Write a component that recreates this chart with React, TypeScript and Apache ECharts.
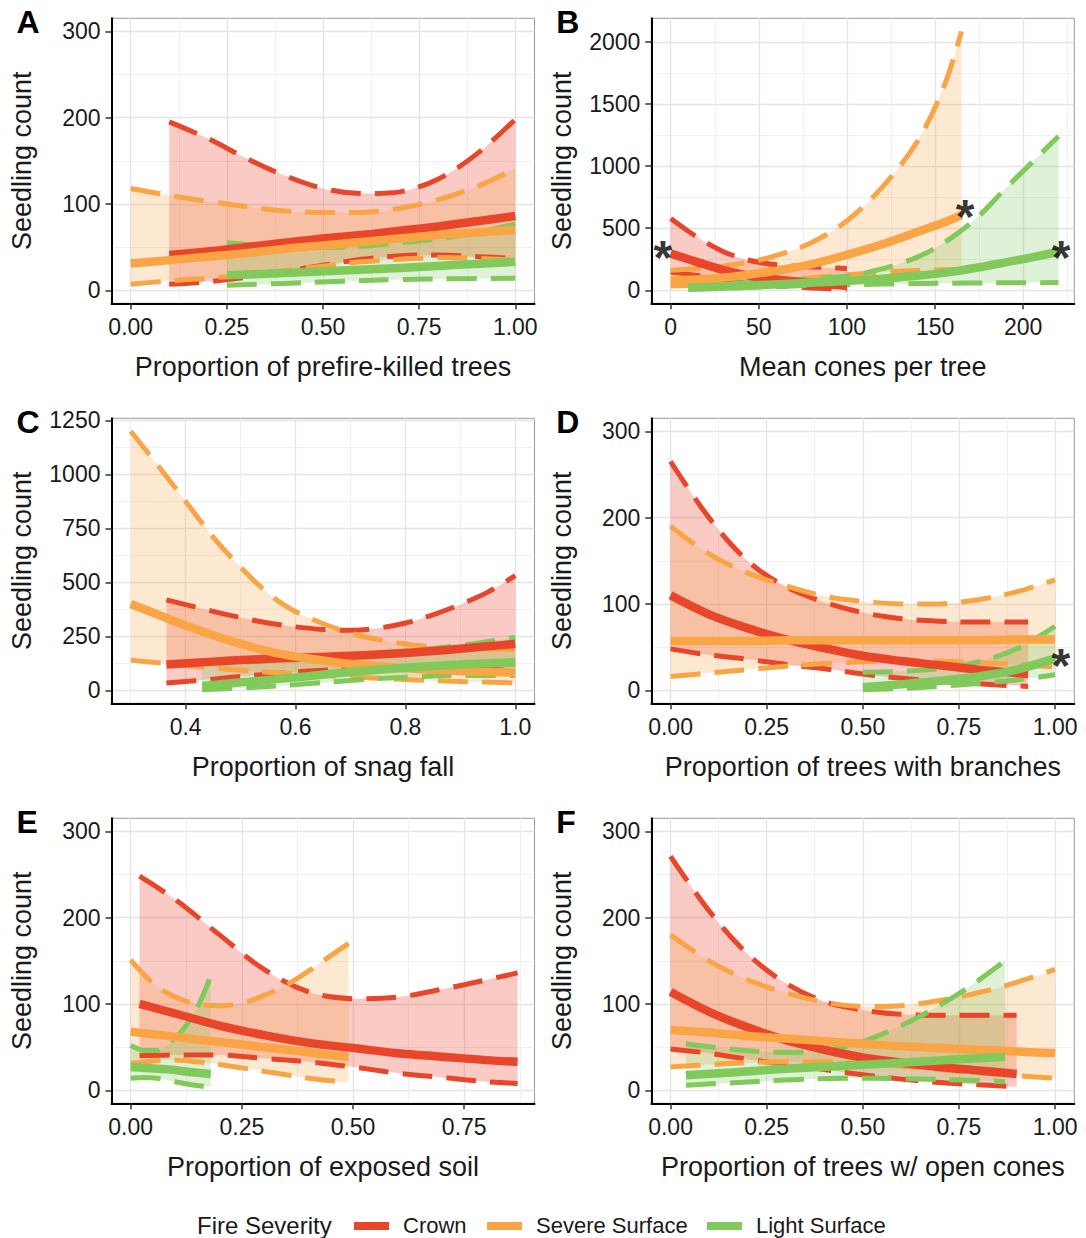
import React, { useEffect, useRef } from 'react';
import * as echarts from 'echarts';

const FONT = '"Liberation Sans", Arial, Helvetica, sans-serif';

// ---------- Panel A: Proportion of prefire-killed trees ----------
const A_crown_x = [0.1, 0.2, 0.3, 0.4, 0.5, 0.6, 0.7, 0.8, 0.9, 1.0];
const A_crown_fit = [41, 45, 50, 55, 60, 64, 69, 74, 80, 86];
const A_crown_lo = [7, 10, 15, 22, 29, 36, 40, 41, 39, 37];
const A_crown_hi = [195, 176, 153, 133, 118, 112, 114, 129, 158, 198];
const A_severe_x = [0, 0.1, 0.2, 0.3, 0.4, 0.5, 0.6, 0.7, 0.8, 0.9, 1.0];
const A_severe_fit = [31, 35, 39, 43, 48, 52, 56, 60, 64, 67, 70];
const A_severe_lo = [7, 11, 14, 18, 23, 28, 33, 36, 38, 37, 35];
const A_severe_hi = [118, 110, 103, 97, 92, 90, 90, 95, 105, 120, 141];
const A_light_x = [0.25, 0.4, 0.55, 0.7, 0.85, 1.0];
const A_light_fit = [17.5, 20, 23, 26, 29.5, 33];
const A_light_lo = [6, 8, 10.5, 12.5, 13.5, 14];
const A_light_hi = [55, 50, 50, 55, 63, 77];

// ---------- Panel B: Mean cones per tree ----------
const B_crown_x = [0, 10, 20, 30, 40, 50, 60, 70, 80, 90, 100];
const B_crown_fit = [295, 250, 205, 163, 130, 105, 87, 72, 58, 46, 35];
const B_crown_lo = [145, 130, 108, 87, 65, 49, 37, 27, 18, 12, 8];
const B_crown_hi = [577, 475, 385, 310, 258, 225, 205, 195, 188, 182, 175];
const B_severe_x = [0, 20, 40, 60, 80, 100, 120, 140, 155, 165];
const B_severe_fit = [80, 90, 118, 158, 210, 285, 370, 470, 545, 605];
const B_severe_lo = [35, 42, 55, 75, 100, 125, 145, 160, 165, 168];
const B_severe_hi = [161, 180, 215, 280, 385, 560, 830, 1200, 1640, 2085];
const B_light_x = [10, 40, 70, 100, 115, 130, 145, 160, 175, 190, 205, 220];
const B_light_fit = [20, 35, 55, 75, 88, 105, 125, 150, 185, 225, 265, 310];
const B_light_lo = [10, 22, 35, 44, 48, 52, 55, 57, 59, 60, 61, 62];
const B_light_hi = [40, 60, 85, 112, 155, 215, 300, 430, 600, 820, 1030, 1240];
const B_stars = [[-4.5, 330], [167, 660], [221.5, 330]];

// ---------- Panel C: Proportion of snag fall ----------
const C_crown_x = [0.365, 0.45, 0.5, 0.55, 0.6, 0.65, 0.7, 0.75, 0.8, 0.85, 0.9, 0.95, 1.0];
const C_crown_fit = [120, 133, 140, 146, 151, 155, 160, 166, 173, 182, 193, 204, 215];
const C_crown_lo = [34, 52, 64, 75, 85, 93, 100, 104, 106, 106, 103, 98, 92];
const C_crown_hi = [419, 366, 337, 312, 294, 282, 278, 288, 312, 350, 398, 455, 531];
const C_severe_x = [0.3, 0.35, 0.4, 0.45, 0.5, 0.55, 0.6, 0.7, 0.8, 0.9, 1.0];
const C_severe_fit = [400, 350, 300, 255, 215, 182, 157, 122, 102, 90, 82];
const C_severe_lo = [140, 128, 115, 103, 93, 84, 76, 62, 50, 41, 34];
const C_severe_hi = [1200, 1040, 875, 710, 570, 450, 365, 265, 215, 195, 190];
const C_light_x = [0.43, 0.5, 0.6, 0.7, 0.8, 0.9, 1.0];
const C_light_fit = [20, 37, 60, 85, 105, 120, 130];
const C_light_lo = [3, 11, 26, 46, 61, 69, 69];
const C_light_hi = [123, 130, 143, 163, 182, 208, 246];

// ---------- Panel D: Proportion of trees with branches ----------
const D_crown_x = [0, 0.1, 0.2, 0.3, 0.4, 0.5, 0.6, 0.7, 0.8, 0.93];
const D_crown_fit = [110, 88, 72, 59, 49, 40, 34, 29, 24, 19];
const D_crown_lo = [48, 41, 36, 30, 25, 19, 14, 10.5, 7.5, 4.5];
const D_crown_hi = [265, 200, 150, 120, 102, 90, 83, 80, 79, 79];
const D_severe_x = [0, 0.1, 0.2, 0.3, 0.4, 0.5, 0.6, 0.7, 0.8, 0.9, 1.0];
const D_severe_fit = [57, 57, 57, 58, 58, 58, 58, 58, 58, 59, 59];
const D_severe_lo = [16, 20, 24, 28, 31, 33, 34, 34, 32, 30, 27];
const D_severe_hi = [190, 158, 136, 121, 109, 103, 100, 100, 105, 114, 128];
const D_light_x = [0.5, 0.6, 0.7, 0.8, 0.9, 1.0];
const D_light_fit = [3.5, 7, 11, 16, 24, 37];
const D_light_lo = [0.6, 2.2, 4.8, 8, 12, 18];
const D_light_hi = [21, 22, 25, 33, 48, 74];
const D_stars = [[1.015, 38]];

// ---------- Panel E: Proportion of exposed soil ----------
const E_crown_x = [0.02, 0.1, 0.2, 0.3, 0.4, 0.5, 0.6, 0.7, 0.8, 0.87];
const E_crown_fit = [100, 89, 75, 64, 55, 49, 43, 39, 35, 33];
const E_crown_lo = [40, 41, 41, 37, 33, 27, 20, 15, 10, 8];
const E_crown_hi = [248, 221, 180, 140, 114, 106, 108, 117, 128, 136];
const E_severe_x = [0, 0.05, 0.1, 0.15, 0.2, 0.25, 0.3, 0.35, 0.4, 0.45, 0.49];
const E_severe_fit = [68, 65, 62, 59, 56, 53, 50, 47, 44, 41, 39];
const E_severe_lo = [31, 34, 35, 33, 30, 26, 22, 18, 14, 11, 9];
const E_severe_hi = [151, 124, 108, 100, 98, 101, 110, 122, 138, 156, 170];
const E_light_x = [0, 0.03, 0.06, 0.09, 0.12, 0.15, 0.18];
const E_light_fit = [27, 26, 25, 24, 22, 20.5, 19];
const E_light_lo = [14, 15, 14, 11, 8, 5.5, 3.5];
const E_light_hi = [52, 46, 46, 56, 72, 96, 132];

// ---------- Panel F: Proportion of trees w/ open cones ----------
const F_crown_x = [0, 0.1, 0.2, 0.3, 0.4, 0.5, 0.6, 0.7, 0.8, 0.9];
const F_crown_fit = [114, 91, 73, 58, 47, 38, 32, 27, 23, 19];
const F_crown_lo = [48, 43, 36, 30, 24, 18, 13, 9, 6.5, 4];
const F_crown_hi = [271, 208, 158, 124, 103, 93, 88, 87, 87, 87];
const F_severe_x = [0, 0.1, 0.2, 0.3, 0.4, 0.5, 0.6, 0.7, 0.8, 0.9, 1.0];
const F_severe_fit = [70, 67, 63, 60, 57, 54, 51, 49, 47, 45, 43];
const F_severe_lo = [27, 30, 32, 33, 33, 31, 28, 24, 20, 17, 14];
const F_severe_hi = [180, 150, 128, 113, 102, 97, 98, 104, 113, 125, 140];
const F_light_x = [0.04, 0.15, 0.3, 0.45, 0.6, 0.75, 0.87];
const F_light_fit = [17.5, 20.5, 25, 28.5, 32, 36, 39];
const F_light_lo = [6, 8.5, 12, 14, 13.5, 12, 10];
const F_light_hi = [54, 48, 44, 50, 75, 112, 150];

// ---------- Axis ticks ----------
const PROP_TICKS = [0, 0.25, 0.5, 0.75, 1];
const PROP_MINOR = [0.125, 0.375, 0.625, 0.875];
const COUNT300_TICKS = [0, 100, 200, 300];
const COUNT300_MINOR = [50, 150, 250];
const CONE_TICKS = [0, 50, 100, 150, 200];
const CONE_MINOR = [25, 75, 125, 175, 225];
const B_Y_TICKS = [0, 500, 1000, 1500, 2000];
const B_Y_MINOR = [250, 750, 1250, 1750];
const SNAG_TICKS = [0.4, 0.6, 0.8, 1.0];
const SNAG_MINOR = [0.3, 0.5, 0.7, 0.9];
const C_Y_TICKS = [0, 250, 500, 750, 1000, 1250];
const C_Y_MINOR = [125, 375, 625, 875, 1125];
const SOIL_TICKS = [0, 0.25, 0.5, 0.75];

const SEVERITIES = ['Crown', 'Severe Surface', 'Light Surface'];
const COLORS: Record<string, string> = {
  Crown: '#E9452A',
  'Severe Surface': '#F9A546',
  'Light Surface': '#80C95A',
};
const FILL_OPACITY: Record<string, number> = {
  Crown: 0.28,
  'Severe Surface': 0.25,
  'Light Surface': 0.25,
};

const COL_LEFT = [111.5, 651.3];
const ROW_TOP = [18.3, 418.3, 818.3];
const GRID_W = 423;
const GRID_H = 285;

type Curve = { sev: string; x: number[]; fit: number[]; lo: number[]; hi: number[] };
type Panel = {
  letter: string; col: number; row: number; xName: string;
  xMin: number; xMax: number; xTicks: number[]; xMinor: number[]; xDigits: number;
  yMin: number; yMax: number; yTicks: number[]; yMinor: number[];
  curves: Curve[]; stars?: number[][];
};

const PANELS: Panel[] = [
  {
    letter: 'A', col: 0, row: 0, xName: 'Proportion of prefire-killed trees',
    xMin: -0.05, xMax: 1.05, xTicks: PROP_TICKS, xMinor: PROP_MINOR, xDigits: 2,
    yMin: -15, yMax: 315, yTicks: COUNT300_TICKS, yMinor: COUNT300_MINOR,
    curves: [
      { sev: 'Crown', x: A_crown_x, fit: A_crown_fit, lo: A_crown_lo, hi: A_crown_hi },
      { sev: 'Severe Surface', x: A_severe_x, fit: A_severe_fit, lo: A_severe_lo, hi: A_severe_hi },
      { sev: 'Light Surface', x: A_light_x, fit: A_light_fit, lo: A_light_lo, hi: A_light_hi },
    ],
  },
  {
    letter: 'B', col: 1, row: 0, xName: 'Mean cones per tree',
    xMin: -11, xMax: 229, xTicks: CONE_TICKS, xMinor: CONE_MINOR, xDigits: 0,
    yMin: -105, yMax: 2190, yTicks: B_Y_TICKS, yMinor: B_Y_MINOR,
    curves: [
      { sev: 'Crown', x: B_crown_x, fit: B_crown_fit, lo: B_crown_lo, hi: B_crown_hi },
      { sev: 'Severe Surface', x: B_severe_x, fit: B_severe_fit, lo: B_severe_lo, hi: B_severe_hi },
      { sev: 'Light Surface', x: B_light_x, fit: B_light_fit, lo: B_light_lo, hi: B_light_hi },
    ],
    stars: B_stars,
  },
  {
    letter: 'C', col: 0, row: 1, xName: 'Proportion of snag fall',
    xMin: 0.265, xMax: 1.035, xTicks: SNAG_TICKS, xMinor: SNAG_MINOR, xDigits: 1,
    yMin: -60, yMax: 1260, yTicks: C_Y_TICKS, yMinor: C_Y_MINOR,
    curves: [
      { sev: 'Crown', x: C_crown_x, fit: C_crown_fit, lo: C_crown_lo, hi: C_crown_hi },
      { sev: 'Severe Surface', x: C_severe_x, fit: C_severe_fit, lo: C_severe_lo, hi: C_severe_hi },
      { sev: 'Light Surface', x: C_light_x, fit: C_light_fit, lo: C_light_lo, hi: C_light_hi },
    ],
  },
  {
    letter: 'D', col: 1, row: 1, xName: 'Proportion of trees with branches',
    xMin: -0.05, xMax: 1.05, xTicks: PROP_TICKS, xMinor: PROP_MINOR, xDigits: 2,
    yMin: -15, yMax: 315, yTicks: COUNT300_TICKS, yMinor: COUNT300_MINOR,
    curves: [
      { sev: 'Crown', x: D_crown_x, fit: D_crown_fit, lo: D_crown_lo, hi: D_crown_hi },
      { sev: 'Severe Surface', x: D_severe_x, fit: D_severe_fit, lo: D_severe_lo, hi: D_severe_hi },
      { sev: 'Light Surface', x: D_light_x, fit: D_light_fit, lo: D_light_lo, hi: D_light_hi },
    ],
    stars: D_stars,
  },
  {
    letter: 'E', col: 0, row: 2, xName: 'Proportion of exposed soil',
    xMin: -0.043, xMax: 0.908, xTicks: SOIL_TICKS, xMinor: PROP_MINOR, xDigits: 2,
    yMin: -15, yMax: 315, yTicks: COUNT300_TICKS, yMinor: COUNT300_MINOR,
    curves: [
      { sev: 'Crown', x: E_crown_x, fit: E_crown_fit, lo: E_crown_lo, hi: E_crown_hi },
      { sev: 'Severe Surface', x: E_severe_x, fit: E_severe_fit, lo: E_severe_lo, hi: E_severe_hi },
      { sev: 'Light Surface', x: E_light_x, fit: E_light_fit, lo: E_light_lo, hi: E_light_hi },
    ],
  },
  {
    letter: 'F', col: 1, row: 2, xName: 'Proportion of trees w/ open cones',
    xMin: -0.05, xMax: 1.05, xTicks: PROP_TICKS, xMinor: PROP_MINOR, xDigits: 2,
    yMin: -15, yMax: 315, yTicks: COUNT300_TICKS, yMinor: COUNT300_MINOR,
    curves: [
      { sev: 'Crown', x: F_crown_x, fit: F_crown_fit, lo: F_crown_lo, hi: F_crown_hi },
      { sev: 'Severe Surface', x: F_severe_x, fit: F_severe_fit, lo: F_severe_lo, hi: F_severe_hi },
      { sev: 'Light Surface', x: F_light_x, fit: F_light_fit, lo: F_light_lo, hi: F_light_hi },
    ],
  },
];

const SMOOTH = 0.35;
const TICK_FONT = 23;
const TITLE_FONT = 27;
const TEXT_COLOR = '#1a1a1a';

// Smooth bezier path through pixel points (same spirit as ECharts line smoothing)
function smoothPath(pts: number[][], start: 'M' | 'L'): string {
  const n = pts.length;
  const cpIn: number[][] = [];
  const cpOut: number[][] = [];
  for (let i = 0; i < n; i++) {
    const [x, y] = pts[i];
    if (i === 0 || i === n - 1) {
      cpIn[i] = [x, y];
      cpOut[i] = [x, y];
      continue;
    }
    const [px, py] = pts[i - 1];
    const [nx, ny] = pts[i + 1];
    const vx = nx - px;
    const vy = ny - py;
    const l0 = Math.hypot(x - px, y - py);
    const l1 = Math.hypot(nx - x, ny - y);
    const r = l0 + l1 > 0 ? l1 / (l0 + l1) : 0.5;
    const inX = x - vx * SMOOTH * (1 - r);
    let inY = y - vy * SMOOTH * (1 - r);
    const outX = x + vx * SMOOTH * r;
    let outY = y + vy * SMOOTH * r;
    inY = Math.min(Math.max(inY, Math.min(py, y)), Math.max(py, y));
    outY = Math.min(Math.max(outY, Math.min(ny, y)), Math.max(ny, y));
    cpIn[i] = [inX, inY];
    cpOut[i] = [outX, outY];
  }
  let d = `${start}${pts[0][0]},${pts[0][1]}`;
  for (let i = 0; i < n - 1; i++) {
    const a = cpOut[i];
    const b = cpIn[i + 1];
    const p = pts[i + 1];
    d += `C${a[0]},${a[1]} ${b[0]},${b[1]} ${p[0]},${p[1]}`;
  }
  return d;
}

function buildOption() {
  const grid: any[] = [];
  const xAxis: any[] = [];
  const yAxis: any[] = [];
  const ribbons: any[] = [];
  const dashed: any[] = [];
  const fits: any[] = [];
  const extras: any[] = [];
  const graphic: any[] = [];

  PANELS.forEach((p, i) => {
    const left = COL_LEFT[p.col];
    const top = ROW_TOP[p.row];
    grid.push({
      left, top, width: GRID_W, height: GRID_H,
      show: true, borderColor: '#9a9a9a', borderWidth: 1, backgroundColor: '#fff',
    });
    xAxis.push({
      type: 'value', gridIndex: i, min: p.xMin, max: p.xMax, position: 'bottom',
      name: p.xName, nameLocation: 'middle', nameGap: 50,
      nameTextStyle: { fontSize: TITLE_FONT, color: TEXT_COLOR, fontFamily: FONT },
      axisLine: { show: true, onZero: false, lineStyle: { color: '#000', width: 2 } },
      axisTick: { show: true, length: 6, customValues: p.xTicks, lineStyle: { color: '#333', width: 1.5 } },
      axisLabel: {
        customValues: p.xTicks, fontSize: TICK_FONT, color: TEXT_COLOR, fontFamily: FONT, margin: 12,
        formatter: (v: number) => v.toFixed(p.xDigits),
      },
      splitLine: { show: true, lineStyle: { color: '#e4e4e4', width: 1.3 } },
    });
    xAxis.push({
      type: 'value', gridIndex: i, min: p.xMin, max: p.xMax,
      axisLine: { show: false }, axisLabel: { show: false },
      axisTick: { show: false, customValues: p.xMinor },
      splitLine: { show: true, lineStyle: { color: '#f0f0f0', width: 1 } },
    });
    yAxis.push({
      type: 'value', gridIndex: i, min: p.yMin, max: p.yMax, position: 'left',
      name: 'Seedling count', nameLocation: 'middle', nameGap: 76, nameRotate: 90,
      nameTextStyle: { fontSize: TITLE_FONT, color: TEXT_COLOR, fontFamily: FONT },
      axisLine: { show: true, onZero: false, lineStyle: { color: '#000', width: 2 } },
      axisTick: { show: true, length: 6, customValues: p.yTicks, lineStyle: { color: '#333', width: 1.5 } },
      axisLabel: {
        customValues: p.yTicks, fontSize: TICK_FONT, color: TEXT_COLOR, fontFamily: FONT, margin: 11,
        formatter: (v: number) => String(Math.round(v)),
      },
      splitLine: { show: true, lineStyle: { color: '#e4e4e4', width: 1.3 } },
    });
    yAxis.push({
      type: 'value', gridIndex: i, min: p.yMin, max: p.yMax,
      axisLine: { show: false }, axisLabel: { show: false },
      axisTick: { show: false, customValues: p.yMinor },
      splitLine: { show: true, lineStyle: { color: '#f0f0f0', width: 1 } },
    });

    const xi = i * 2;
    const yi = i * 2;

    p.curves.forEach((c) => {
      const color = COLORS[c.sev];
      const rows = c.x.map((x, k) => [x, c.lo[k], c.fit[k], c.hi[k]]);
      const toPx = (api: any, arr: number[]) => c.x.map((x, k) => api.coord([x, arr[k]]));
      const common = {
        type: 'custom', xAxisIndex: xi, yAxisIndex: yi, data: rows,
        encode: { x: 0, y: [1, 2, 3] }, silent: true, clip: true,
      };
      ribbons.push({
        ...common, name: `${p.letter} ${c.sev} interval`, z: 2,
        renderItem: (params: any, api: any) => {
          if (params.dataIndex !== 0) return null;
          const hiPts = toPx(api, c.hi);
          const loPts = toPx(api, c.lo).reverse();
          const d = smoothPath(hiPts, 'M') + smoothPath(loPts, 'L') + 'Z';
          return {
            type: 'path', shape: { pathData: d },
            style: { fill: color, opacity: FILL_OPACITY[c.sev], stroke: 'none' },
          };
        },
      });
      dashed.push({
        ...common, name: `${p.letter} ${c.sev} bounds`, z: 3,
        renderItem: (params: any, api: any) => {
          if (params.dataIndex !== 0) return null;
          const st = { fill: 'none', stroke: color, lineWidth: 5, lineDash: [30, 14], lineCap: 'butt' };
          return {
            type: 'group',
            children: [
              { type: 'path', shape: { pathData: smoothPath(toPx(api, c.lo), 'M') }, style: st },
              { type: 'path', shape: { pathData: smoothPath(toPx(api, c.hi), 'M') }, style: st },
            ],
          };
        },
      });
      fits.push({
        ...common, name: c.sev, z: 4, itemStyle: { color },
        renderItem: (params: any, api: any) => {
          if (params.dataIndex !== 0) return null;
          return {
            type: 'path', shape: { pathData: smoothPath(toPx(api, c.fit), 'M') },
            style: { fill: 'none', stroke: color, lineWidth: 8.5, lineCap: 'butt', lineJoin: 'round' },
          };
        },
      });
    });

    if (p.stars) {
      extras.push({
        type: 'scatter', name: `${p.letter} stars`, xAxisIndex: xi, yAxisIndex: yi,
        data: p.stars, symbolSize: 1, itemStyle: { color: 'rgba(0,0,0,0)' }, silent: true, z: 6,
        label: {
          show: true, formatter: '*', position: 'inside', fontSize: 48, fontWeight: 'bold',
          color: '#000', fontFamily: FONT, offset: [0, 8],
        },
      });
    }

    graphic.push({
      type: 'text', left: left - 95, top: top - 12,
      style: { text: p.letter, fontSize: 32, fontWeight: 'bold', fill: '#000', fontFamily: FONT },
    });
  });

  // Legend (built from the severity list)
  graphic.push({
    type: 'text', left: 197, top: 1213,
    style: { text: 'Fire Severity', fontSize: 24, fill: TEXT_COLOR, fontFamily: FONT },
  });
  const LEGEND_KEY_X = [354, 487, 707];
  SEVERITIES.forEach((s, k) => {
    graphic.push({
      type: 'rect', left: LEGEND_KEY_X[k], top: 1222,
      shape: { width: 35, height: 8 }, style: { fill: COLORS[s] },
    });
    graphic.push({
      type: 'text', left: LEGEND_KEY_X[k] + 49, top: 1214,
      style: { text: s, fontSize: 22, fill: TEXT_COLOR, fontFamily: FONT },
    });
  });

  return {
    animation: false,
    backgroundColor: '#fff',
    grid,
    xAxis,
    yAxis,
    graphic,
    series: [...ribbons, ...dashed, ...fits, ...extras],
  };
}

export default function App() {
  const ref = useRef<HTMLDivElement>(null);
  useEffect(() => {
    if (!ref.current) return;
    const chart = echarts.init(ref.current, undefined, { renderer: 'svg' });
    chart.setOption(buildOption() as any);
    return () => chart.dispose();
  }, []);
  return (
    <div
      ref={ref}
      style={{ position: 'absolute', left: 0, top: 0, width: 1086, height: 1238, background: '#fff' }}
    />
  );
}
